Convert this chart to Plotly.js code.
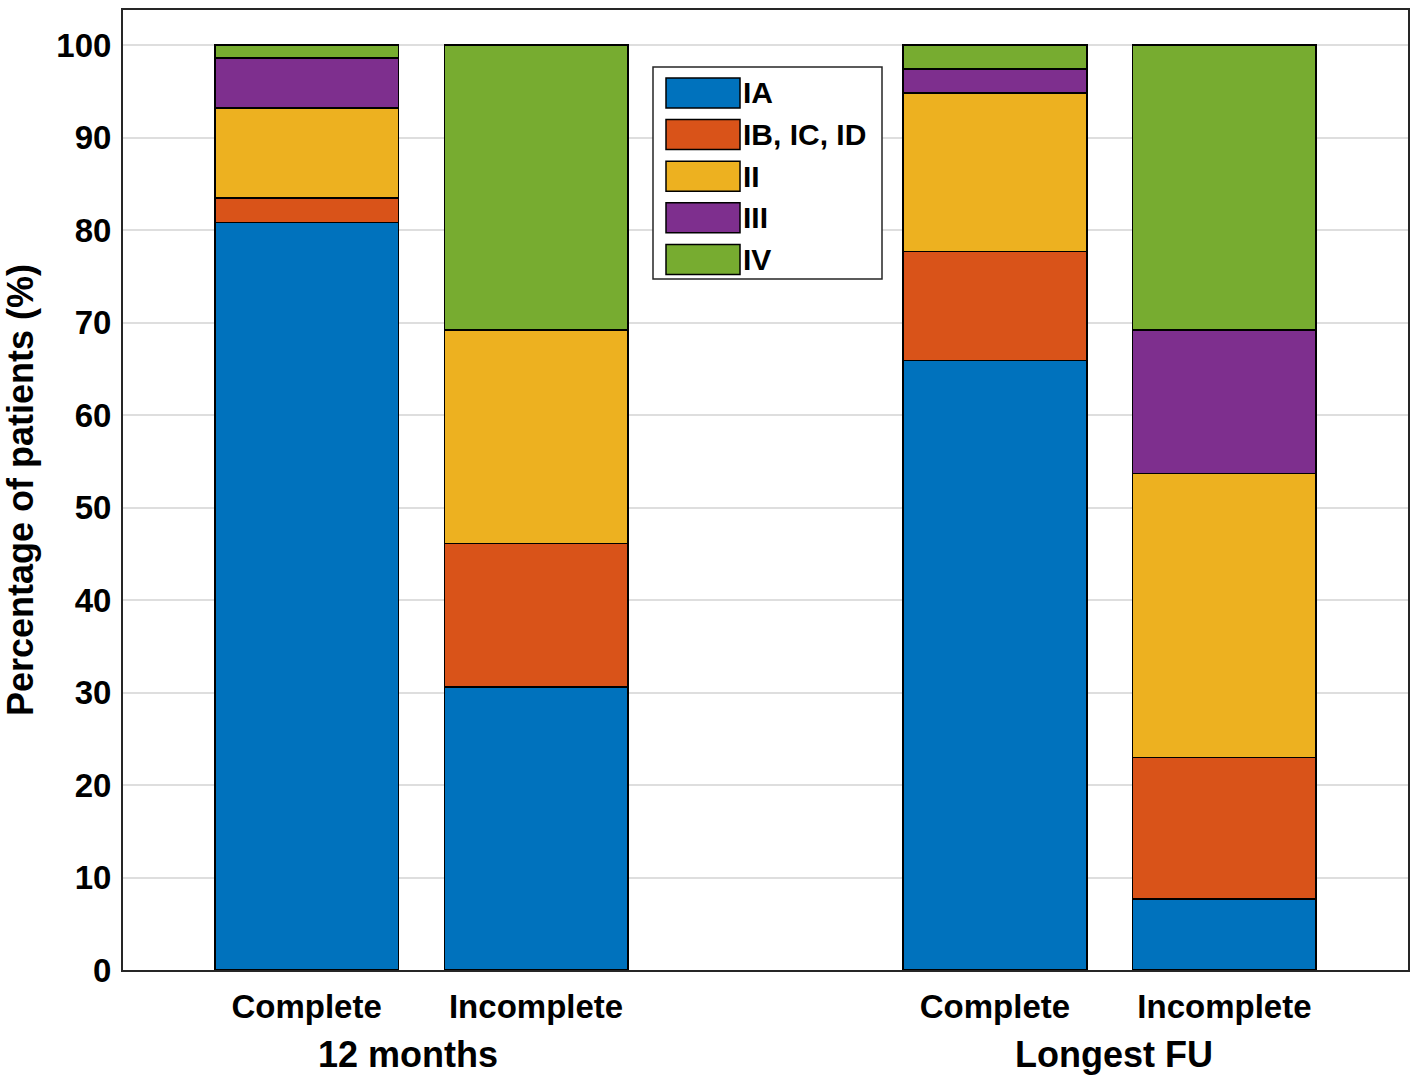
<!DOCTYPE html>
<html>
<head>
<meta charset="utf-8">
<script src="https://cdn.plot.ly/plotly-3.0.1.min.js"></script>
<style>
  html, body { margin: 0; padding: 0; background: #fff; }
  #chart { width: 1418px; height: 1087px; }
</style>
</head>
<body>
<div id="chart"></div>
<script>
// Stacked bars: classification by group, 12 months vs longest follow-up

const posiciones = [1, 2, 4, 5];
const etiquetasBarra = ['Complete', 'Incomplete', 'Complete', 'Incomplete'];
const grupos = ['12 months', 'Longest FU'];
const posicionGrupos = [1.44, 4.52];

const clases = ['IA', 'IB, IC, ID', 'II', 'III', 'IV'];
const colores = ['#0072BD', '#D95319', '#EDB120', '#7E2F8E', '#77AC30'];

// % of patients per class, in the order of `posiciones`
const valoresIA = [80.8, 30.6, 65.9, 7.7];
const valoresIB = [2.7, 15.5, 11.8, 15.3];
const valoresII = [9.7, 23.1, 17.1, 30.7];
const valoresIII = [5.4, 0, 2.6, 15.5];
const valoresIV = [1.4, 30.8, 2.6, 30.8];
const series = [valoresIA, valoresIB, valoresII, valoresIII, valoresIV];

const FUENTE = '"Liberation Sans", Arial, Helvetica, sans-serif';

// plot area in pixels, used only to place the hand-made legend box
const AREA = { l: 123, t: 10, w: 1285, h: 960 };
const px2x = (px) => (px - AREA.l) / AREA.w;
const px2y = (py) => 1 - (py - AREA.t) / AREA.h;

const trazas = series.map((valores, i) => ({
  type: 'bar',
  name: clases[i],
  x: posiciones,
  y: valores,
  width: 0.8,
  marker: { color: colores[i], line: { color: '#000', width: 1.5 } },
  hovertemplate: clases[i] + ': %{y:.1f}%<extra></extra>',
}));

// legend drawn with shapes so the swatches can be wide, like the original
const leyenda = { izq: 653, arriba: 67, der: 882, abajo: 279, paso: 41.6, primera: 93 };
const shapes = [{
  type: 'rect', xref: 'paper', yref: 'paper',
  x0: px2x(leyenda.izq), x1: px2x(leyenda.der),
  y0: px2y(leyenda.abajo), y1: px2y(leyenda.arriba),
  fillcolor: '#fff', line: { color: '#262626', width: 1.5 }, layer: 'above',
}];
const annotations = [];
clases.forEach((clase, i) => {
  const cy = leyenda.primera + i * leyenda.paso;
  shapes.push({
    type: 'rect', xref: 'paper', yref: 'paper',
    x0: px2x(666), x1: px2x(740),
    y0: px2y(cy + 15), y1: px2y(cy - 15),
    fillcolor: colores[i], line: { color: '#000', width: 1.5 }, layer: 'above',
  });
  annotations.push({
    xref: 'paper', yref: 'paper',
    x: px2x(741), y: px2y(cy),
    xanchor: 'left', yanchor: 'middle',
    text: clase, showarrow: false,
    font: { family: FUENTE, size: 30, color: '#000', weight: 'bold' },
  });
});

grupos.forEach((g, i) => {
  annotations.push({
    xref: 'x', yref: 'paper',
    x: posicionGrupos[i], y: -0.088,
    xanchor: 'center', yanchor: 'middle',
    text: g, showarrow: false,
    font: { family: FUENTE, size: 36, color: '#000', weight: 'bold' },
  });
});

const layout = {
  width: 1418,
  height: 1087,
  barmode: 'stack',
  showlegend: false,
  margin: { l: AREA.l, r: 1418 - AREA.l - AREA.w, t: AREA.t, b: 1087 - AREA.t - AREA.h, pad: 0 },
  paper_bgcolor: '#fff',
  plot_bgcolor: '#fff',
  font: { family: FUENTE, size: 33, color: '#000', weight: 'bold' },
  xaxis: {
    range: [0.2, 5.8],
    tickvals: posiciones,
    ticktext: etiquetasBarra,
    ticks: 'outside', ticklen: 6, tickcolor: 'rgba(0,0,0,0)',
    tickfont: { family: FUENTE, size: 33, color: '#000', weight: 'bold' },
    showgrid: false, zeroline: false,
    showline: true, mirror: true, linecolor: '#262626', linewidth: 2,
  },
  yaxis: {
    range: [0, 103.8],
    dtick: 10,
    ticks: 'outside', ticklen: 3, tickcolor: 'rgba(0,0,0,0)',
    tickfont: { family: FUENTE, size: 33, color: '#000', weight: 'bold' },
    showgrid: true, gridcolor: '#dedede', gridwidth: 2,
    zeroline: false,
    showline: true, mirror: true, linecolor: '#262626', linewidth: 2,
    title: { text: 'Percentage of patients (%)', standoff: 14, font: { family: FUENTE, size: 36, color: '#000', weight: 'bold' } },
  },
  shapes,
  annotations,
};

Plotly.newPlot('chart', trazas, layout, { displayModeBar: false, staticPlot: true });
</script>
</body>
</html>
